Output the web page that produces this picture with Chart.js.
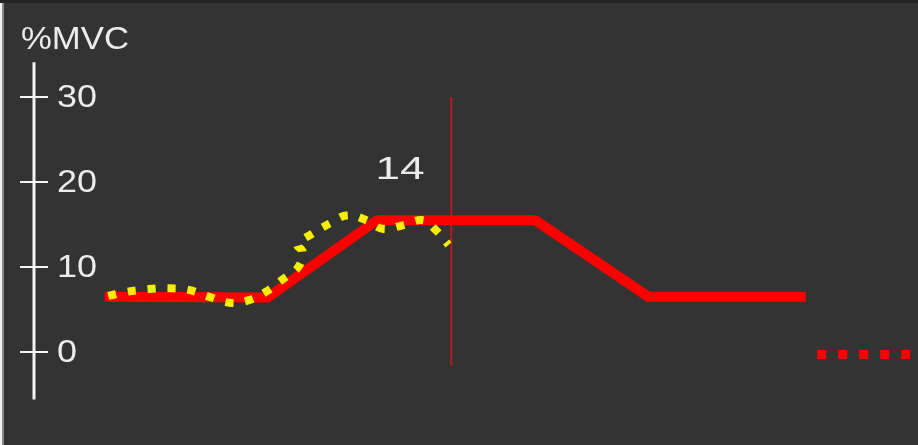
<!DOCTYPE html>
<html lang="en">
<head>
    <meta charset="UTF-8">
    <title>%MVC</title>
    <script src="https://cdn.jsdelivr.net/npm/chart.js@4.4.0/dist/chart.umd.min.js"></script>
    <style>
        html, body { margin: 0; padding: 0; background: #333333; }
        .frame {
            width: 918px; height: 445px; position: relative;
            background: #333333;
            box-shadow: inset 0 3px 0 #232323, inset 2px 0 0 #f2f2f2, inset 4px 0 0 #8a8a8a;
        }
    </style>
</head>
<body>
    <div class="frame">
        <canvas id="mvcChart"></canvas>
    </div>

    <script>
        // Datos (x en unidades de tiempo 0-100, y en %MVC)
        const yTicks = [0, 10, 20, 30];
        const axisRange = [-5.6, 34.1];

        const targetX = [8.0, 26.4, 38.8, 56.7, 69.5, 87.3];
        const targetY = [6.5, 6.4, 15.5, 15.5, 6.5, 6.5];

        const restX = [88.6, 99.4];
        const restY = [-0.3, -0.3];

        const forceX = [8.4, 10.6, 13.0, 15.3, 17.5, 19.8, 22.1, 24.3, 26.4, 28.2, 29.9, 30.4, 29.8, 31.6, 33.6, 35.5, 37.6, 39.4, 41.7, 44.0, 45.4, 46.9];
        const forceY = [6.6, 7.1, 7.4, 7.5, 7.3, 6.5, 5.8, 6.1, 7.2, 8.6, 10.0, 11.8, 12.6, 14.0, 15.2, 16.1, 15.5, 14.5, 14.9, 15.5, 14.4, 12.6];

        const cursorX = 47.2;
        const cursorY = [30, -1.6];

        const markerText = '14';
        const markerPos = [41.4, 21.4];
        const unitLabel = '%MVC';

        const toPoints = (xs, ys) => xs.map((x, i) => ({ x: x, y: ys[i] }));

        // texto algo ensanchado, como en la captura
        const wideText = (ctx, txt, x, y, sx) => {
            ctx.save();
            ctx.translate(x, y);
            ctx.scale(sx, 1);
            ctx.fillText(txt, 0, 0);
            ctx.restore();
        };

        // Eje vertical con marcas cruzadas, etiquetas y texto
        const axisPlugin = {
            id: 'axisPlugin',
            afterDatasetsDraw(chart) {
                const ctx = chart.ctx;
                const xs = chart.scales.x;
                const ys = chart.scales.y;
                const ax = chart.chartArea.left;
                ctx.save();
                ctx.strokeStyle = '#f4f4f4';
                ctx.lineWidth = 3;
                ctx.beginPath();
                ctx.moveTo(ax, ys.getPixelForValue(axisRange[1]));
                ctx.lineTo(ax, ys.getPixelForValue(axisRange[0]));
                ctx.stroke();

                ctx.lineWidth = 2;
                ctx.fillStyle = '#ececec';
                ctx.font = '31px "Liberation Sans", Arial, sans-serif';
                ctx.textBaseline = 'middle';
                ctx.textAlign = 'left';
                yTicks.forEach(t => {
                    const py = ys.getPixelForValue(t);
                    ctx.beginPath();
                    ctx.moveTo(ax - 14, py);
                    ctx.lineTo(ax + 14, py);
                    ctx.stroke();
                    wideText(ctx, String(t), ax + 23, py + 1, 1.16);
                });

                wideText(ctx, unitLabel, ax - 13, 40, 1.12);

                ctx.font = '32px "Liberation Sans", Arial, sans-serif';
                ctx.textAlign = 'center';
                wideText(ctx, markerText, xs.getPixelForValue(markerPos[0]), ys.getPixelForValue(markerPos[1]), 1.38);
                ctx.restore();
            }
        };

        const ctx = document.getElementById('mvcChart').getContext('2d');
        new Chart(ctx, {
            type: 'scatter',
            data: {
                datasets: [
                    {
                        label: 'Fuerza',
                        data: toPoints(forceX, forceY),
                        showLine: true,
                        borderColor: '#f5f000',
                        borderWidth: 8,
                        borderDash: [8, 12],
                        tension: 0.4,
                        pointRadius: 0
                    },
                    {
                        label: 'Objetivo',
                        data: toPoints(targetX, targetY),
                        showLine: true,
                        borderColor: '#ff0000',
                        borderWidth: 10,
                        borderJoinStyle: 'round',
                        tension: 0,
                        pointRadius: 0
                    },
                    {
                        label: 'Reposo',
                        data: toPoints(restX, restY),
                        showLine: true,
                        borderColor: '#ff0000',
                        borderWidth: 9,
                        borderDash: [9, 12],
                        pointRadius: 0
                    },
                    {
                        label: 'Cursor',
                        data: toPoints([cursorX, cursorX], cursorY),
                        showLine: true,
                        borderColor: '#b81a1a',
                        borderWidth: 2,
                        pointRadius: 0
                    }
                ]
            },
            options: {
                responsive: true,
                maintainAspectRatio: false,
                animation: false,
                layout: { padding: { left: 34, top: 12, right: 0, bottom: 42 } },
                scales: {
                    x: { type: 'linear', min: 0, max: 100, display: false },
                    y: { type: 'linear', min: -6, max: 40, display: false }
                },
                plugins: {
                    legend: { display: false },
                    tooltip: { enabled: false }
                }
            },
            plugins: [axisPlugin]
        });
    </script>
</body>
</html>
